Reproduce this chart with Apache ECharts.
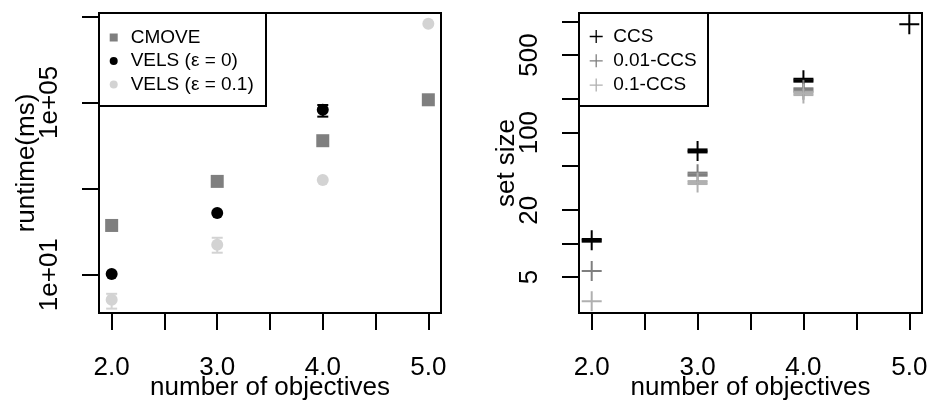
<!DOCTYPE html>
<html>
<head>
<meta charset="utf-8">
<script src="https://cdn.jsdelivr.net/npm/echarts@6/dist/echarts.min.js"></script>
<style>
html, body { margin: 0; padding: 0; background: #fff; }
#chart { width: 930px; height: 404px; }
</style>
</head>
<body>
<div id="chart"></div>
<script>
// x values shared by both panels
var objectives = [2, 3, 4, 5];
var xTicks = [2, 2.5, 3, 3.5, 4, 4.5, 5];
var xLabels = [2, 3, 4, 5];

// left panel: runtime (ms)
var cmove = [139, 1466, 12900, 115000];
var vels0 = [10.4, 270, 67600, null];
var vels01 = [2.63, 49.7, 1580, 6700000];
var vels0Err = [[4, 46700, 87000]];
var vels01Err = [[2, 1.63, 3.6], [3, 32.4, 72]];
var runtimeTicks = [10, 1000, 100000, 10000000];
var runtimeLabels = [10, 100000];

// right panel: set size
var ccs = [10.7, 68.4, 297, 950];
var ccs001 = [5.66, 42.2, 243, null];
var ccs01 = [3.02, 35.5, 225, null];
var ccsErr = [[2, 10.4, 11.0], [3, 66.3, 70.6], [4, 288, 306]];
var ccs001Err = [[3, 40.9, 43.6], [4, 235, 251]];
var ccs01Err = [[3, 34.4, 36.6], [4, 218, 232]];
var sizeTicks = [5, 10, 20, 50, 100, 200, 500, 1000];
var sizeLabels = [5, 20, 100, 500];

var font = 'Liberation Sans';
var plus = 'path://M9,0h2v9h9v2h-9v9h-2v-9h-9v-2h9z';
var square = 'path://M0,0h10v10h-10z';

function points(vals) {
    var out = [];
    for (var i = 0; i < objectives.length; i++) {
        if (vals[i] != null) out.push([objectives[i], vals[i]]);
    }
    return out;
}

function errorBar(capWidth) {
    return function (params, api) {
        var x = api.value(0);
        var lo = api.coord([x, api.value(1)]);
        var hi = api.coord([x, api.value(2)]);
        var h = capWidth / 2;
        var style = { stroke: api.visual('color'), lineWidth: 2 };
        return {
            type: 'group',
            children: [
                { type: 'line', shape: { x1: lo[0], y1: lo[1], x2: hi[0], y2: hi[1] }, style: style },
                { type: 'line', shape: { x1: lo[0] - h, y1: lo[1], x2: lo[0] + h, y2: lo[1] }, style: style },
                { type: 'line', shape: { x1: hi[0] - h, y1: hi[1], x2: hi[0] + h, y2: hi[1] }, style: style }
            ]
        };
    };
}

function xAxis(gridIndex) {
    return {
        type: 'value', gridIndex: gridIndex, min: 1.88, max: 5.12,
        name: 'number of objectives', nameLocation: 'middle', nameGap: 62, nameMoveOverlap: false,
        nameTextStyle: { color: '#000', fontSize: 26, fontFamily: font },
        axisLine: { show: false },
        axisTick: { length: 17, lineStyle: { color: '#000', width: 2 }, customValues: xTicks },
        axisLabel: {
            color: '#000', fontSize: 26, fontFamily: font, margin: 42,
            customValues: xLabels,
            formatter: function (v) { return v.toFixed(1); }
        },
        splitLine: { show: false }
    };
}

function yAxis(gridIndex, name, min, max, ticks, labels, fmt) {
    return {
        type: 'log', logBase: 10, gridIndex: gridIndex, min: min, max: max,
        name: name, nameLocation: 'middle', nameGap: 59, nameMoveOverlap: false,
        nameTextStyle: { color: '#000', fontSize: 26, fontFamily: font },
        axisLine: { show: false },
        axisTick: { length: 17, lineStyle: { color: '#000', width: 2 }, customValues: ticks },
        axisLabel: {
            color: '#000', fontSize: 26, fontFamily: font, margin: 36, rotate: 90,
            customValues: labels, formatter: fmt
        },
        splitLine: { show: false }
    };
}

var chart = echarts.init(document.getElementById('chart'));

var legendText = { color: '#000', fontSize: 19, fontFamily: font, lineHeight: 18 };

var option = {
    animation: false,
    backgroundColor: '#fff',
    grid: [
        { left: 99, top: 13, width: 342, height: 300, show: true, borderColor: '#000', borderWidth: 2,
          containLabel: false, outerBoundsMode: 'none' },
        { left: 579, top: 13, width: 343, height: 300, show: true, borderColor: '#000', borderWidth: 2,
          containLabel: false, outerBoundsMode: 'none' }
    ],
    xAxis: [xAxis(0), xAxis(1)],
    yAxis: [
        yAxis(0, 'runtime(ms)', 1.29, 1.19e7, runtimeTicks, runtimeLabels, function (v) {
            var e = Math.round(Math.log10(v));
            return '1e+' + (e < 10 ? '0' : '') + e;
        }),
        yAxis(1, 'set size', 2.366, 1198, sizeTicks, sizeLabels, function (v) { return String(v); })
    ],
    legend: [
        {
            data: [{ name: 'CMOVE', icon: square }, 'VELS (ε = 0)', 'VELS (ε = 0.1)'],
            orient: 'vertical', left: 104.7, top: 23, itemWidth: 24, itemHeight: 8, itemGap: 4.5,
            symbolKeepAspect: true, textStyle: legendText, selectedMode: false
        },
        {
            data: ['CCS', '0.01-CCS', '0.1-CCS'],
            orient: 'vertical', left: 584.7, top: 22, itemWidth: 24, itemHeight: 13, itemGap: 5.3,
            symbolKeepAspect: true, textStyle: legendText, selectedMode: false
        }
    ],
    graphic: [
        { type: 'rect', shape: { x: 99, y: 13, width: 167, height: 93 }, style: { fill: null, stroke: '#000', lineWidth: 2 } },
        { type: 'rect', shape: { x: 579, y: 13, width: 129, height: 93 }, style: { fill: null, stroke: '#000', lineWidth: 2 } }
    ],
    series: [
        { name: 'CMOVE', type: 'scatter', xAxisIndex: 0, yAxisIndex: 0, symbol: 'rect', symbolSize: 13,
          itemStyle: { color: '#7f7f7f', opacity: 1 }, data: points(cmove) },
        { name: 'VELS (ε = 0)', type: 'scatter', xAxisIndex: 0, yAxisIndex: 0, symbol: 'circle', symbolSize: 12,
          itemStyle: { color: '#000', opacity: 1 }, data: points(vels0) },
        { name: 'VELS (ε = 0.1)', type: 'scatter', xAxisIndex: 0, yAxisIndex: 0, symbol: 'circle', symbolSize: 12,
          itemStyle: { color: '#d3d3d3', opacity: 1 }, data: points(vels01) },
        { name: 'err0', type: 'custom', xAxisIndex: 0, yAxisIndex: 0, renderItem: errorBar(11),
          itemStyle: { color: '#000' }, encode: { x: 0, y: [1, 2] }, data: vels0Err },
        { name: 'err01', type: 'custom', xAxisIndex: 0, yAxisIndex: 0, renderItem: errorBar(11),
          itemStyle: { color: '#d3d3d3' }, encode: { x: 0, y: [1, 2] }, data: vels01Err },

        { name: 'CCS', type: 'scatter', xAxisIndex: 1, yAxisIndex: 1, symbol: plus, symbolSize: 20,
          itemStyle: { color: '#000', opacity: 1 }, data: points(ccs) },
        { name: 'errCcs', type: 'custom', xAxisIndex: 1, yAxisIndex: 1, renderItem: errorBar(20),
          itemStyle: { color: '#000' }, encode: { x: 0, y: [1, 2] }, data: ccsErr },
        { name: '0.01-CCS', type: 'scatter', xAxisIndex: 1, yAxisIndex: 1, symbol: plus, symbolSize: 20,
          itemStyle: { color: '#7f7f7f', opacity: 1 }, data: points(ccs001) },
        { name: 'errCcs001', type: 'custom', xAxisIndex: 1, yAxisIndex: 1, renderItem: errorBar(20),
          itemStyle: { color: '#7f7f7f' }, encode: { x: 0, y: [1, 2] }, data: ccs001Err },
        { name: '0.1-CCS', type: 'scatter', xAxisIndex: 1, yAxisIndex: 1, symbol: plus, symbolSize: 20,
          itemStyle: { color: '#b0b0b0', opacity: 1 }, data: points(ccs01) },
        { name: 'errCcs01', type: 'custom', xAxisIndex: 1, yAxisIndex: 1, renderItem: errorBar(20),
          itemStyle: { color: '#b0b0b0' }, encode: { x: 0, y: [1, 2] }, data: ccs01Err }
    ]
};

chart.setOption(option);
</script>
</body>
</html>
